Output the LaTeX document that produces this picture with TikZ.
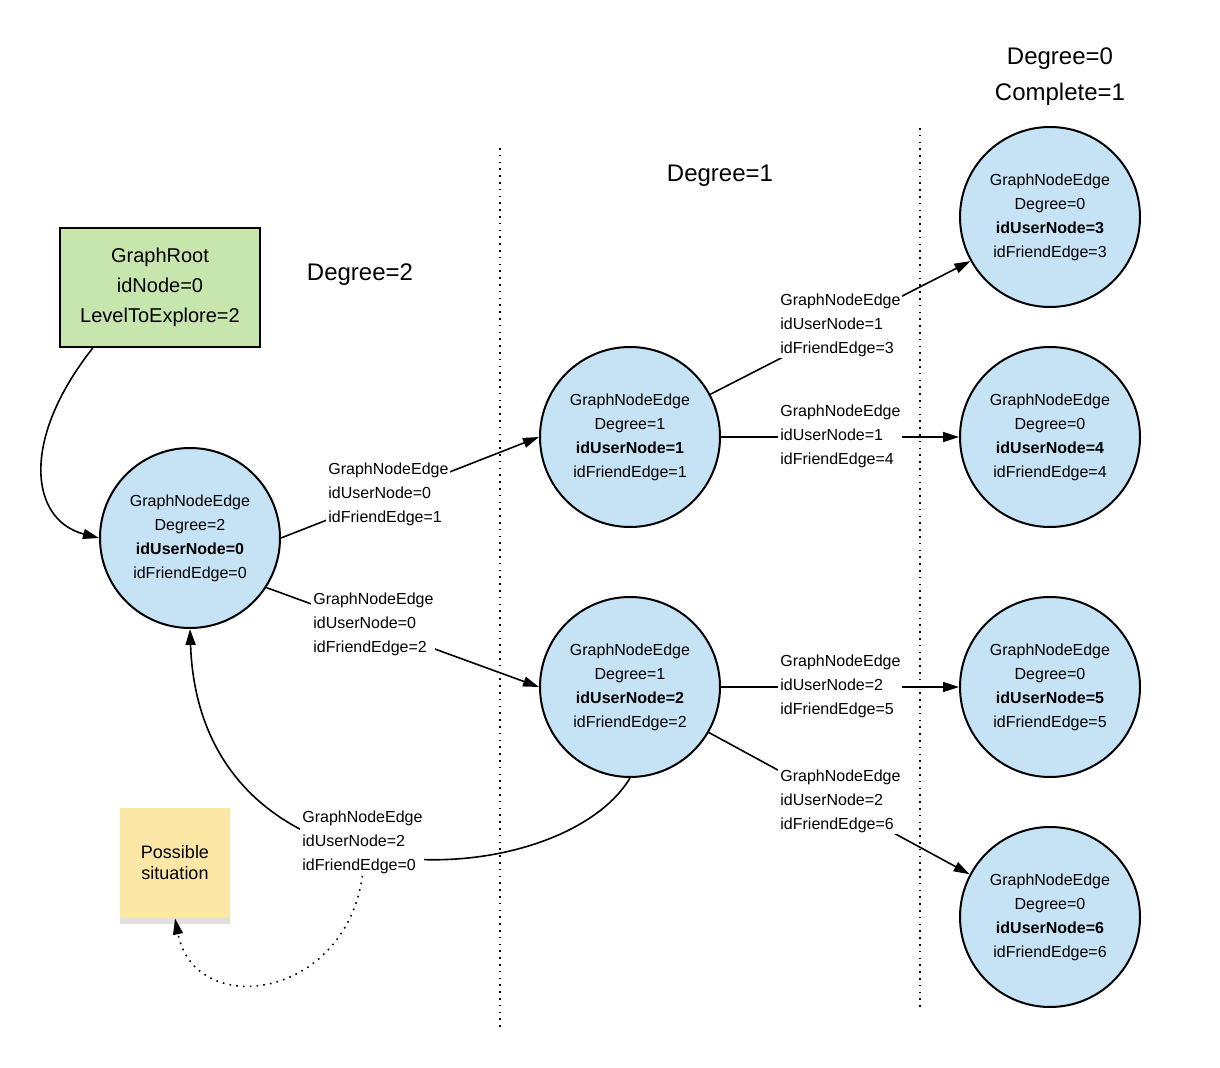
\documentclass[tikz,border=0pt]{standalone}
\usepackage{fontspec}
\setmainfont{Liberation Sans}
\usetikzlibrary{arrows.meta, positioning, shadows}
\definecolor{nodeblue}{HTML}{C5E3F5}
\definecolor{rootgreen}{HTML}{C6E6AD}
\definecolor{noteyellow}{HTML}{FCE7A6}

\begin{document}
\begin{tikzpicture}[
  x=0.5pt, y=-0.5pt,
  gne/.style={draw, circle, fill=nodeblue, line width=1pt, minimum size=90pt, inner sep=0pt, align=center, font=\fontsize{8}{12}\selectfont},
  rootbox/.style={draw, fill=rootgreen, line width=1pt, minimum width=100pt, minimum height=59.5pt, align=center, font=\fontsize{10}{15}\selectfont},
  sticky/.style={fill=noteyellow, minimum size=55pt, inner sep=0pt, align=center, font=\fontsize{9}{10.5}\selectfont,
    drop shadow={shadow xshift=0pt, shadow yshift=-3pt, opacity=.12, fill=black}},
  edgelbl/.style={fill=white, inner sep=1pt, anchor=west, align=left, font=\fontsize{8}{12}\selectfont},
  hdr/.style={align=center, font=\fontsize{12}{18}\selectfont},
  conn/.style={line width=0.8pt},
  sep/.style={line width=0.8pt, dash pattern=on 0.8pt off 2.6pt},
  >={Triangle[length=8pt, width=5pt]}
]
  \useasboundingbox (0,0) rectangle (1220,1068);
  % level separators
  \draw[sep] (500,148) -- (500,1028);
  \draw[sep] (920,128) -- (920,1008);

  \node[hdr] (h2) at (360,275) {Degree=2};
  \node[hdr] (h1) at (720,176) {Degree=1};
  \node[hdr] (h0) at (1060,77) {Degree=0\\Complete=1};

  \node[rootbox] (root) at (160,287.5) {GraphRoot\\idNode=0\\LevelToExplore=2};
  \node[sticky] (note) at (175,863) {Possible\\situation};

  \node[gne] (n0) at (190,538) {GraphNodeEdge\\Degree=2\\\textbf{idUserNode=0}\\idFriendEdge=0};
  \node[gne] (n1) at (630,437) {GraphNodeEdge\\Degree=1\\\textbf{idUserNode=1}\\idFriendEdge=1};
  \node[gne, below=34pt of n1] (n2) {GraphNodeEdge\\Degree=1\\\textbf{idUserNode=2}\\idFriendEdge=2};
  \node[gne, right=119pt of n1] (n4) {GraphNodeEdge\\Degree=0\\\textbf{idUserNode=4}\\idFriendEdge=4};
  \node[gne, above=19pt of n4] (n3) {GraphNodeEdge\\Degree=0\\\textbf{idUserNode=3}\\idFriendEdge=3};
  \node[gne, right=119pt of n2] (n5) {GraphNodeEdge\\Degree=0\\\textbf{idUserNode=5}\\idFriendEdge=5};
  \node[gne, below=24pt of n5] (n6) {GraphNodeEdge\\Degree=0\\\textbf{idUserNode=6}\\idFriendEdge=6};

  % edges (labels go on top)
  \draw[conn, ->] (root.222) .. controls (20,440) and (30,520) .. (n0.west);
  \draw[conn, ->] (n0.east) -- (n1.west);
  \draw[conn, ->] (n0.-33) -- (n2.west);
  \draw[conn, ->] (n1.28) -- (n3.-151);
  \draw[conn, ->] (n1.east) -- (n4.west);
  \draw[conn, ->] (n2.east) -- (n5.west);
  \draw[conn, ->] (n2.-30) -- (n6.152);
  \draw[conn, ->] (n2.south) .. controls (560,895) and (200,915) .. (n0.south);

  \node[edgelbl] (l01) at (326,494) {GraphNodeEdge\\idUserNode=0\\idFriendEdge=1};
  \node[edgelbl] (l02) at (311,624) {GraphNodeEdge\\idUserNode=0\\idFriendEdge=2};
  \node[edgelbl] (l13) at (778,325) {GraphNodeEdge\\idUserNode=1\\idFriendEdge=3};
  \node[edgelbl] (l14) at (778,436) {GraphNodeEdge\\idUserNode=1\\idFriendEdge=4};
  \node[edgelbl] (l25) at (778,686) {GraphNodeEdge\\idUserNode=2\\idFriendEdge=5};
  \node[edgelbl] (l26) at (778,801) {GraphNodeEdge\\idUserNode=2\\idFriendEdge=6};
  \node[edgelbl] (l20) at (300,842) {GraphNodeEdge\\idUserNode=2\\idFriendEdge=0};

  \draw[sep, ->] (l20.south) .. controls (345,1000) and (195,1020) .. (note.south);
\end{tikzpicture}
\end{document}
